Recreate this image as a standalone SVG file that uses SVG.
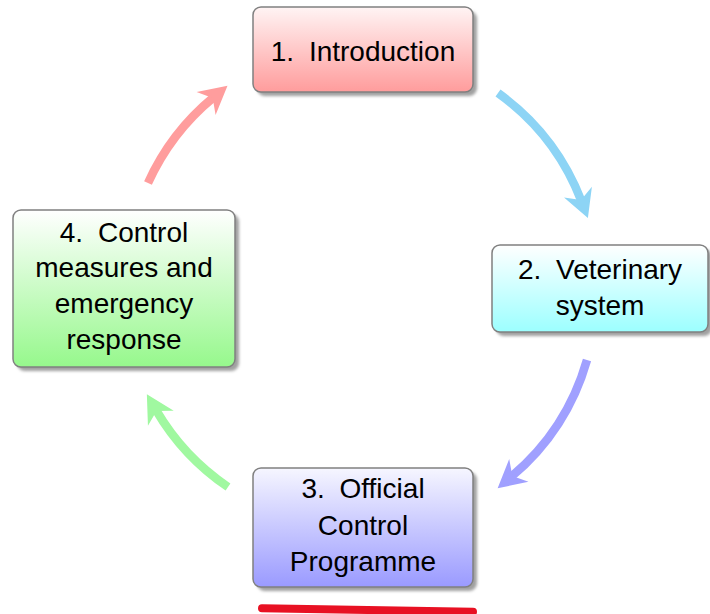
<svg xmlns="http://www.w3.org/2000/svg" width="710" height="614" viewBox="0 0 710 614">
<style>
.box{stroke:#808080;stroke-width:1.5}
.shadow{fill:#a0a0a0;filter:url(#blur)}
.lbl{font-family:"Liberation Sans",Arial,sans-serif;font-size:28px;fill:#000;text-anchor:middle}
.arc{fill:none;stroke-width:8.5;stroke-linecap:butt}
</style>
<defs>
<filter id="blur" x="-10%" y="-10%" width="120%" height="120%"><feGaussianBlur stdDeviation="1.5"/></filter>
<linearGradient id="g1" x1="0" y1="0" x2="0" y2="1"><stop offset="0" stop-color="#fff4f4"/><stop offset="1" stop-color="#ff9c9c"/></linearGradient>
<linearGradient id="g2" x1="0" y1="0" x2="0" y2="1"><stop offset="0" stop-color="#ffffff"/><stop offset="1" stop-color="#9cffff"/></linearGradient>
<linearGradient id="g3" x1="0" y1="0" x2="0" y2="1"><stop offset="0" stop-color="#f6f6ff"/><stop offset="1" stop-color="#9a9aff"/></linearGradient>
<linearGradient id="g4" x1="0" y1="0" x2="0" y2="1"><stop offset="0" stop-color="#ffffff"/><stop offset="1" stop-color="#96f88c"/></linearGradient>
<marker id="hBlue" markerUnits="userSpaceOnUse" markerWidth="32" markerHeight="32" viewBox="0 -15 27 30" refX="9" refY="0" orient="auto"><polygon points="0,-14 26,0 0,14 8,0" fill="#8dd4f5"/></marker>
<marker id="hPurple" markerUnits="userSpaceOnUse" markerWidth="32" markerHeight="32" viewBox="0 -15 27 30" refX="9" refY="0" orient="auto"><polygon points="0,-14 26,0 0,14 8,0" fill="#a0a0ff"/></marker>
<marker id="hGreen" markerUnits="userSpaceOnUse" markerWidth="32" markerHeight="32" viewBox="0 -15 27 30" refX="9" refY="0" orient="auto"><polygon points="0,-14 26,0 0,14 8,0" fill="#a0f8a0"/></marker>
<marker id="hRed" markerUnits="userSpaceOnUse" markerWidth="32" markerHeight="32" viewBox="0 -15 27 30" refX="9" refY="0" orient="auto"><polygon points="0,-14 26,0 0,14 8,0" fill="#ff9d9d"/></marker>
</defs>
<rect width="710" height="614" fill="#ffffff"/>
<g id="connectors">
<path class="arc" stroke="#8dd4f5" marker-end="url(#hBlue)" d="M498,93 A238,238 0 0 1 581.4,201.0"/>
<path class="arc" stroke="#a0a0ff" marker-end="url(#hPurple)" d="M587,360 A238,238 0 0 1 511.5,476.6"/>
<path class="arc" stroke="#a0f8a0" marker-end="url(#hGreen)" d="M228,487 A238,238 0 0 1 156.0,410.0"/>
<path class="arc" stroke="#ff9d9d" marker-end="url(#hRed)" d="M148,183 A238,238 0 0 1 213.5,97.4"/>
</g>
<g id="node1">
<rect class="shadow" x="257" y="11" width="220" height="85" rx="8"/>
<rect class="box" x="253" y="7" width="220" height="85" rx="8" fill="url(#g1)"/>
<text class="lbl" x="363" y="61">1.<tspan dx="7"> Introduction</tspan></text>
</g>
<g id="node2">
<rect class="shadow" x="496" y="249" width="216" height="87" rx="8"/>
<rect class="box" x="492" y="245" width="216" height="87" rx="8" fill="url(#g2)"/>
<text class="lbl" x="600" y="279">2.<tspan dx="7"> Veterinary</tspan></text>
<text class="lbl" x="600" y="315">system</text>
</g>
<g id="node3">
<rect class="shadow" x="257" y="472" width="220" height="119" rx="8"/>
<rect class="box" x="253" y="468" width="220" height="119" rx="8" fill="url(#g3)"/>
<text class="lbl" x="363" y="498">3.<tspan dx="7"> Official</tspan></text>
<text class="lbl" x="363" y="535">Control</text>
<text class="lbl" x="363" y="571">Programme</text>
</g>
<g id="node4">
<rect class="shadow" x="17" y="214" width="222" height="157" rx="8"/>
<rect class="box" x="13" y="210" width="222" height="157" rx="8" fill="url(#g4)"/>
<text class="lbl" x="124" y="242">4.<tspan dx="7"> Control</tspan></text>
<text class="lbl" x="124" y="277">measures and</text>
<text class="lbl" x="124" y="313">emergency</text>
<text class="lbl" x="124" y="349">response</text>
</g>
<path d="M262,608.3 L473,611.7" stroke="#e81123" stroke-width="8" stroke-linecap="round" fill="none"/>
</svg>
